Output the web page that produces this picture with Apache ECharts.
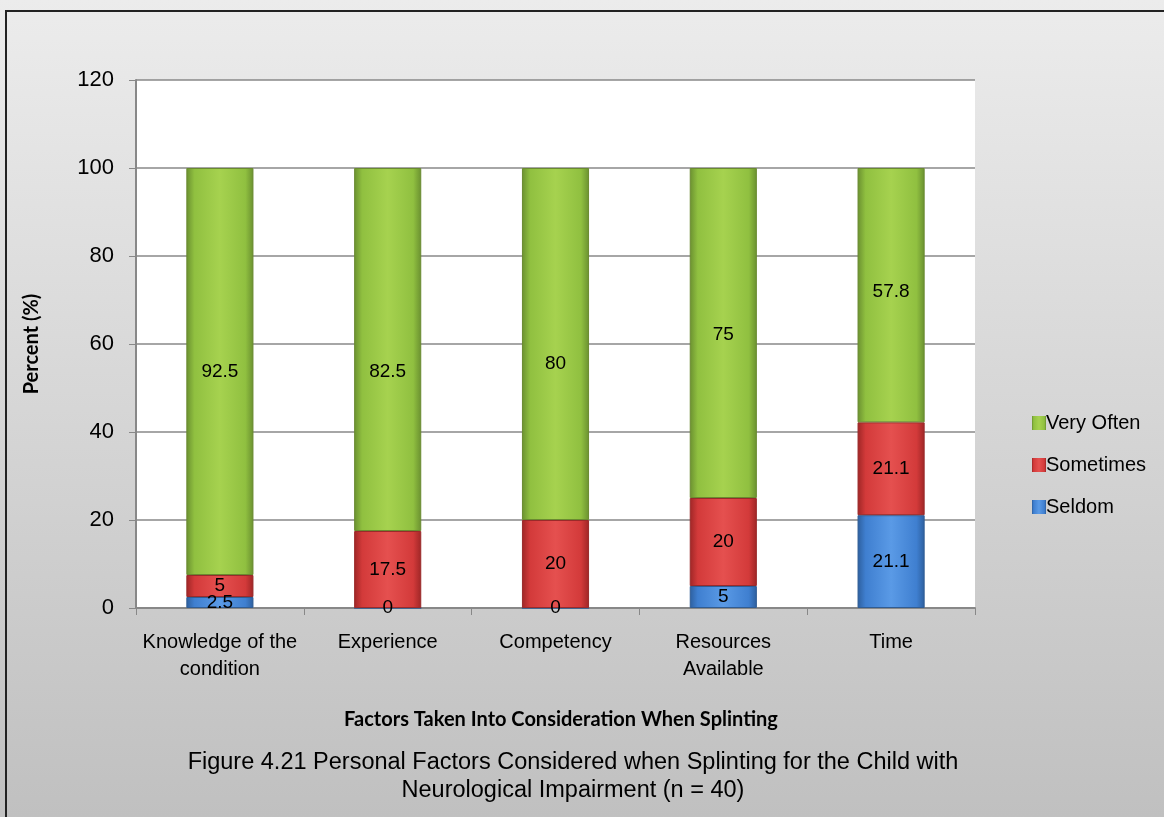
<!DOCTYPE html>
<html>
<head>
<meta charset="utf-8">
<script src="https://cdn.jsdelivr.net/npm/echarts@6/dist/echarts.min.js"></script>
<style>
  html, body { margin: 0; padding: 0; }
  #chart { width: 1164px; height: 817px; }
</style>
</head>
<body>
<div id="chart"></div>
<script>
// categories and values
var categories = ['Knowledge of the\ncondition', 'Experience', 'Competency', 'Resources\nAvailable', 'Time'];
var seldom = [2.5, 0, 0, 5, 21.1];
var sometimes = [5, 17.5, 20, 20, 21.1];
var veryOften = [92.5, 82.5, 80, 75, 57.8];
var yTicks = [0, 20, 40, 60, 80, 100, 120];

// the source places some "Very Often" labels a bit below the segment middle
var veryOftenLabelShift = [0, 22, 20, 2, -3];

var narrow = '"Liberation Sans", Arial, sans-serif';
var calibri = 'Lato, "Open Sans", sans-serif';

// bar fill with a light bevel look
function bevel(light, mid, dark) {
    return new echarts.graphic.LinearGradient(0, 0, 1, 0, [
        {offset: 0, color: dark},
        {offset: 0.12, color: mid},
        {offset: 0.5, color: light},
        {offset: 0.88, color: mid},
        {offset: 1, color: dark}
    ]);
}

function makeSeries(name, data, fill, border, shift) {
    let items = [];
    for (let i in data) {
        let one = {value: data[i]};
        if (shift) {
            one.label = {offset: [0, shift[i]]};
        }
        items.push(one);
    }
    return {
        name: name,
        type: 'bar',
        stack: 'total',
        barWidth: '40%',
        data: items,
        itemStyle: {color: fill, borderColor: border, borderWidth: 1},
        label: {
            show: true,
            position: 'inside',
            color: '#000',
            fontFamily: narrow,
            fontSize: 19,
            formatter: function (p) { return p.value; }
        }
    };
}

var chart = echarts.init(document.getElementById('chart'));

var option = {
    backgroundColor: new echarts.graphic.LinearGradient(0, 0, 0, 1, [
        {offset: 0, color: '#ececec'},
        {offset: 1, color: '#c0c0c0'}
    ]),
    animation: false,
    color: ['#3f7fd0', '#d33a3a', '#90c040'],
    graphic: [{
        type: 'rect',
        shape: {x: 6, y: 11, width: 1200, height: 900},
        style: {fill: 'none', stroke: '#222', lineWidth: 2},
        silent: true
    }],
    title: [{
        text: 'Factors Taken Into Consideration When Splinting',
        left: 556, top: 705, textAlign: 'center',
        textStyle: {fontFamily: calibri, fontWeight: 'bold', fontSize: 20, color: '#000'}
    }, {
        text: 'Figure 4.21 Personal Factors Considered when Splinting for the Child with\nNeurological Impairment (n = 40)',
        left: 568, top: 744, textAlign: 'center',
        textStyle: {fontFamily: narrow, fontWeight: 'normal', fontSize: 23.5, lineHeight: 28, color: '#000'}
    }],
    legend: {
        orient: 'vertical',
        left: 1027,
        top: 408,
        itemGap: 22,
        itemWidth: 14,
        itemHeight: 14,
        icon: 'rect',
        data: ['Very Often', 'Sometimes', 'Seldom'],
        itemStyle: {borderWidth: 0},
        textStyle: {fontFamily: narrow, fontSize: 20, color: '#000', padding: [0, 0, 0, -5]}
    },
    grid: {left: 136, top: 80, right: 189, bottom: 209, backgroundColor: '#fff', show: true, borderWidth: 0},
    xAxis: {
        type: 'category',
        data: categories,
        axisLine: {lineStyle: {color: '#888', width: 2}},
        axisTick: {show: true, length: 7, lineStyle: {color: '#888'}},
        axisLabel: {fontFamily: narrow, fontSize: 20, color: '#000', margin: 21, lineHeight: 27, interval: 0}
    },
    yAxis: {
        type: 'value',
        min: 0, max: 120, interval: 20,
        name: 'Percent (%)',
        nameLocation: 'middle',
        nameGap: 94,
        nameTextStyle: {fontFamily: calibri, fontWeight: 'bold', fontSize: 20, color: '#000'},
        axisLine: {show: true, lineStyle: {color: '#888', width: 2}},
        axisTick: {show: true, length: 7, lineStyle: {color: '#888'}},
        splitLine: {lineStyle: {color: '#888', width: 1.5}},
        axisLabel: {
            fontFamily: narrow, fontSize: 22, color: '#000', margin: 22,
            formatter: function (v) { return yTicks.indexOf(v) >= 0 ? v : ''; }
        }
    },
    series: [
        makeSeries('Seldom', seldom, bevel('#5a9ae6', '#3f7fd0', '#2d5f9e'), '#2f5c94'),
        makeSeries('Sometimes', sometimes, bevel('#e5504f', '#d33a3a', '#9e2626'), '#9a2a2a'),
        makeSeries('Very Often', veryOften, bevel('#a6d24f', '#90c040', '#6a9030'), '#6a8a30', veryOftenLabelShift)
    ]
};

chart.setOption(option);
</script>
</body>
</html>
